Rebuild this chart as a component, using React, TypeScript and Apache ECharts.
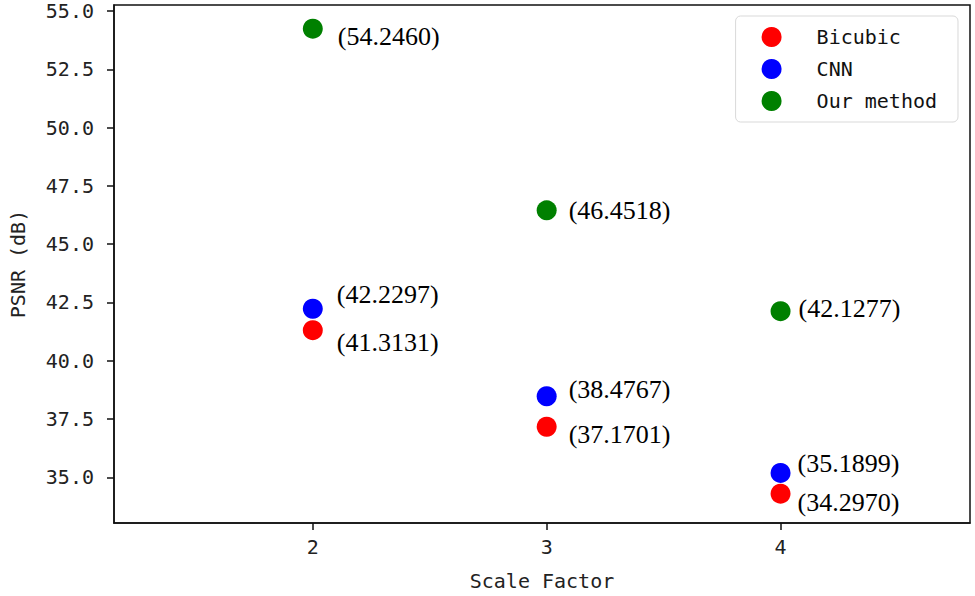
import React, { useEffect, useRef } from "react";
import * as echarts from "echarts";

const scaleFactors = [2, 3, 4];
const bicubic = [41.3131, 37.1701, 34.297];
const cnn = [42.2297, 38.4767, 35.1899];
const ours = [54.246, 46.4518, 42.1277];
const yTicks = [35, 37.5, 40, 42.5, 45, 47.5, 50, 52.5, 55];
const seriesNames = ["Bicubic", "CNN", "Our method"];

// label nudges (styling only)
const bicubicLabelOffset = [[9, 12], [7, 8], [2, 9]];
const cnnLabelOffset = [[9, -14], [7, -7], [2, -9]];
const oursLabelOffset = [[10, 8], [7, 0], [3, -3]];

const monoFont = "DejaVu Sans Mono";
const serifFont = "Liberation Serif";

function buildSeries(name: string, values: number[], color: string, offsets: number[][]) {
  return {
    name,
    type: "scatter",
    symbol: "circle",
    symbolSize: 20,
    itemStyle: { color, opacity: 1 },
    data: values.map((v, i) => ({
      value: [scaleFactors[i], v],
      label: { offset: offsets[i] },
    })),
    label: {
      show: true,
      position: "right",
      distance: 5,
      fontFamily: serifFont,
      fontSize: 26,
      color: "#000",
      opacity: 1,
      formatter: (p: any) => `(${p.value[1].toFixed(4)})`,
    },
  };
}

export default function App() {
  const ref = useRef<HTMLDivElement>(null);
  useEffect(() => {
    if (!ref.current) return;
    const chart = echarts.init(ref.current, undefined, { renderer: "svg" });
    chart.setOption({
      animation: false,
      backgroundColor: "#fff",
      grid: {
        left: 110,
        top: 5,
        right: 5,
        bottom: 69,
        show: true,
        borderColor: "#111",
        borderWidth: 1.5,
        containLabel: false,
      },
      legend: {
        data: seriesNames,
        orient: "vertical",
        top: 16,
        right: 17,
        icon: "circle",
        itemWidth: 20,
        itemHeight: 20,
        itemGap: 12,
        padding: [11, 21, 11, 26],
        borderColor: "#d9d9d9",
        borderWidth: 1,
        borderRadius: 5,
        itemStyle: { opacity: 1 },
        textStyle: {
          fontFamily: monoFont,
          fontSize: 20,
          color: "#111",
          padding: [0, 0, 0, 30],
        },
      },
      xAxis: {
        type: "value",
        min: 1.15,
        max: 4.81,
        name: "Scale Factor",
        nameLocation: "middle",
        nameGap: 48,
        nameTextStyle: { fontFamily: monoFont, fontSize: 20, color: "#222" },
        axisLine: { show: true, lineStyle: { color: "#111", width: 1.5 } },
        axisTick: { show: true, length: 7, customValues: scaleFactors, lineStyle: { color: "#111", width: 1.5 } },
        axisLabel: {
          customValues: scaleFactors,
          margin: 14,
          fontFamily: monoFont,
          fontSize: 20,
          color: "#222",
          formatter: (v: number) => String(v),
        },
        splitLine: { show: false },
      },
      yAxis: {
        type: "value",
        min: 33.04,
        max: 55.26,
        name: "PSNR (dB)",
        nameLocation: "middle",
        nameRotate: 90,
        nameGap: 86,
        nameTextStyle: { fontFamily: monoFont, fontSize: 20, color: "#222" },
        axisLine: { show: true, lineStyle: { color: "#111", width: 1.5 } },
        axisTick: { show: true, length: 7, customValues: yTicks, lineStyle: { color: "#111", width: 1.5 } },
        axisLabel: {
          customValues: yTicks,
          margin: 20,
          fontFamily: monoFont,
          fontSize: 20,
          color: "#222",
          formatter: (v: number) => v.toFixed(1),
        },
        splitLine: { show: false },
      },
      series: [
        buildSeries(seriesNames[0], bicubic, "#ff0000", bicubicLabelOffset),
        buildSeries(seriesNames[1], cnn, "#0000ff", cnnLabelOffset),
        buildSeries(seriesNames[2], ours, "#008000", oursLabelOffset),
      ],
    });
    return () => chart.dispose();
  }, []);
  return (
    <div
      ref={ref}
      style={{ position: "fixed", left: 0, top: 0, width: 975, height: 596, background: "#fff" }}
    />
  );
}
